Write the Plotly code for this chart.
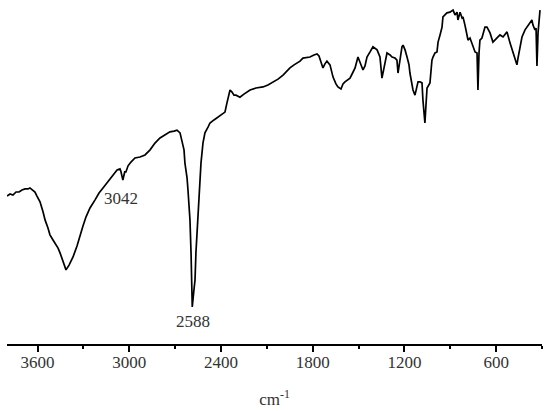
import plotly.graph_objects as go

wavenumber = [3800, 3780, 3761, 3741, 3721, 3702, 3682, 3663, 3650, 3630, 3617, 3604, 3584, 3564, 3551,
              3532, 3519, 3499, 3486, 3466, 3453, 3434, 3414, 3394, 3368, 3342, 3322, 3303, 3283, 3257,
              3224, 3198, 3172, 3146, 3126, 3100, 3080, 3061, 3055, 3042, 3030, 3022, 3008, 2989, 2963,
              2930, 2897, 2864, 2832, 2799, 2766, 2734, 2707, 2688, 2668, 2655, 2642, 2636, 2622, 2616,
              2609, 2603, 2596, 2590, 2588, 2577, 2570, 2564, 2557, 2550, 2544, 2537, 2531, 2518, 2505,
              2485, 2472, 2446, 2426, 2400, 2374, 2361, 2348, 2341, 2328, 2315, 2302, 2289, 2276, 2250,
              2210, 2171, 2125, 2093, 2060, 2027, 1994, 1968, 1949, 1922, 1903, 1883, 1864, 1837, 1818,
              1792, 1772, 1759, 1746, 1733, 1720, 1707, 1687, 1667, 1648, 1635, 1615, 1602, 1589, 1569,
              1556, 1536, 1523, 1504, 1491, 1471, 1458, 1445, 1425, 1406, 1379, 1360, 1347, 1340, 1327,
              1314, 1294, 1281, 1262, 1249, 1242, 1229, 1216, 1209, 1196, 1183, 1170, 1164, 1151, 1144,
              1131, 1118, 1111, 1098, 1085, 1079, 1072, 1066, 1059, 1052, 1033, 1020, 1013, 1000, 987,
              980, 967, 954, 948, 922, 902, 882, 869, 856, 850, 836, 823, 817, 804, 791,
              784, 771, 758, 738, 725, 719, 712, 706, 693, 673, 660, 640, 621, 594, 575,
              555, 529, 509, 490, 477, 464, 457, 444, 431, 411, 392, 366, 359, 346, 339,
              333, 326, 320, 313]

transmittance = [43.5, 44.1, 43.8, 44.7, 44.7, 45.3, 45.6, 45.6, 45.9, 45.3, 44.7, 43.5, 41.8, 38.8, 36.5,
                 34.1, 32.1, 30.6, 29.7, 28.2, 26.8, 24.1, 21.8, 23.2, 25.6, 28.8, 32.1, 34.7, 37.4, 40.0,
                 42.4, 44.4, 45.9, 47.4, 48.8, 50.3, 51.2, 51.5, 50.8, 48.2, 50.6, 50.6, 52.4, 53.5, 54.7,
                 55.0, 55.6, 57.1, 59.1, 60.6, 61.5, 62.4, 62.6, 62.9, 62.1, 60.0, 57.1, 53.2, 48.8, 45.3,
                 40.9, 36.5, 26.8, 18.8, 10.9, 15.9, 18.8, 26.8, 32.1, 36.5, 40.9, 45.3, 53.2, 59.1, 62.1,
                 63.8, 65.0, 65.9, 66.5, 67.4, 68.2, 70.9, 73.2, 74.7, 74.1, 73.2, 73.2, 72.9, 72.6, 73.5,
                 74.7, 75.3, 75.6, 76.2, 77.1, 77.9, 79.1, 80.3, 81.2, 82.1, 82.6, 83.2, 84.1, 84.4, 84.4,
                 85.0, 85.3, 84.7, 82.9, 81.2, 82.4, 83.2, 82.1, 78.5, 76.5, 75.6, 75.0, 76.5, 77.1, 77.9,
                 78.2, 80.0, 81.2, 84.4, 82.9, 80.6, 81.8, 84.4, 85.9, 87.4, 86.5, 84.4, 78.2, 79.7, 82.9,
                 85.6, 85.0, 84.4, 84.1, 83.5, 79.7, 84.1, 87.4, 87.9, 86.5, 84.4, 82.1, 79.7, 76.2, 74.7,
                 73.2, 76.2, 77.1, 77.1, 76.8, 71.8, 67.4, 65.0, 70.3, 75.3, 76.8, 83.5, 84.4, 85.6, 85.9,
                 88.8, 90.9, 93.2, 96.2, 97.4, 97.6, 98.2, 96.8, 97.6, 95.3, 97.6, 95.9, 96.2, 93.8, 91.5,
                 89.4, 90.0, 88.5, 85.9, 85.6, 74.7, 85.6, 89.4, 90.0, 93.2, 93.2, 91.5, 88.8, 90.0, 90.9,
                 90.3, 91.8, 88.5, 85.6, 83.5, 82.1, 84.1, 87.4, 90.3, 92.4, 93.8, 95.3, 93.8, 92.4, 92.9,
                 81.8, 91.5, 94.7, 98.2]

major_ticks = [3600, 3000, 2400, 1800, 1200, 600]
minor_ticks = [3300, 2700, 2100, 1500, 900, 300]

peak_labels = ["3042", "2588"]
peak_label_x = [3054, 2583]
peak_label_y = [42.9, 6.5]

fig = go.Figure()
fig.add_trace(go.Scatter(x=wavenumber, y=transmittance, mode="lines",
                         line=dict(color="black", width=1.7), showlegend=False,
                         hoverinfo="skip"))

for t, xv, yv in zip(peak_labels, peak_label_x, peak_label_y):
    fig.add_annotation(x=xv, y=yv, text=t, showarrow=False,
                       font=dict(family="Liberation Serif", size=17, color="#333333"))

fig.update_layout(
    width=550, height=412,
    margin=dict(l=7, r=8, t=4, b=68),
    paper_bgcolor="white", plot_bgcolor="white",
    xaxis=dict(range=[3800, 300], showgrid=False, zeroline=False,
               showline=True, linecolor="black", linewidth=1.5,
               tickvals=major_ticks, ticktext=[str(v) for v in major_ticks],
               ticks="outside", ticklen=6, tickwidth=1.5, tickcolor="black",
               ticklabelstandoff=-4,
               tickfont=dict(family="Liberation Serif", size=17, color="#333333"),
               minor=dict(tickvals=minor_ticks, ticks="outside", ticklen=3,
                          tickwidth=1.5, tickcolor="black"),
               title=dict(text="cm<sup>-1</sup>", standoff=22,
                          font=dict(family="Liberation Serif", size=17, color="#333333"))),
    yaxis=dict(range=[0, 100], visible=False),
)

fig.write_html("out.html", config={"displayModeBar": False},
               post_script="document.body.style.margin='0';")
